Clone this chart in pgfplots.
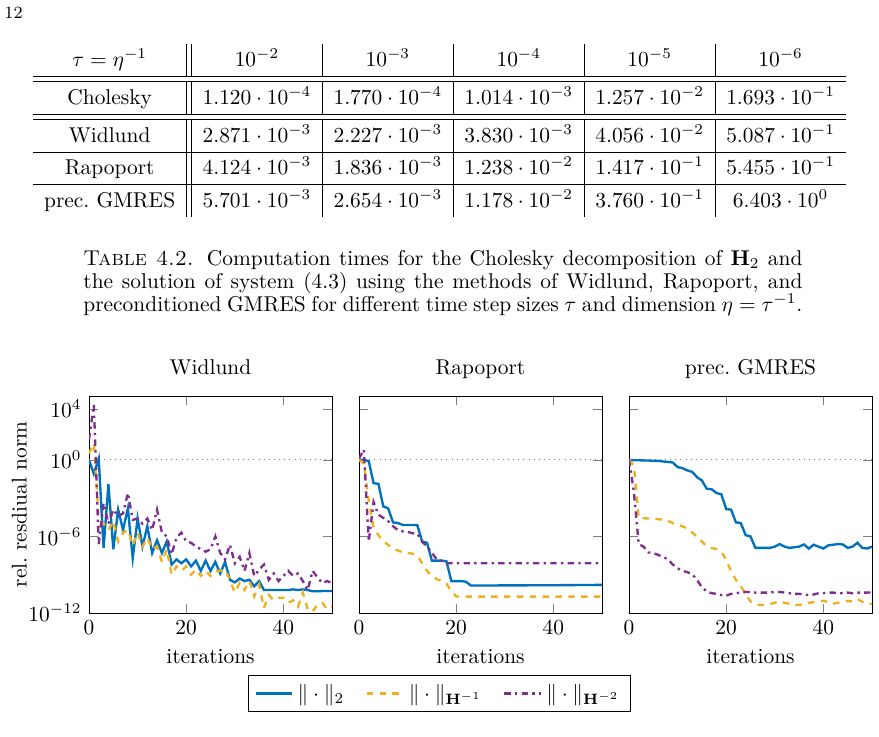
\documentclass[border=0pt]{standalone}
\usepackage{pgfplots}
\usepackage{pgfplotstable}
\pgfplotsset{compat=1.18}
\definecolor{mblue}{RGB}{0,114,189}
\definecolor{myellow}{RGB}{237,177,32}
\definecolor{mpurple}{RGB}{126,47,142}

\pgfplotstableread{
it a b c
0 1 3.162 3.981e1
1 7.943e-2 1.995e1 1.995e4
2 1.259 1.995e-5 2.512e-7
3 1.259e-7 1e-5 3.981e-4
4 1.259e-2 3.162e-6 1e-5
5 1e-7 1.585e-5 1.259e-4
6 1.259e-4 3.981e-7 3.981e-5
7 3.162e-6 1.995e-6 6.310e-5
8 1.585e-4 3.162e-6 2.512e-3
9 1.995e-8 1.995e-7 1.995e-5
10 2.512e-5 1.995e-6 2.512e-5
11 1.585e-7 1.585e-7 1e-5
12 6.310e-6 7.943e-7 2.512e-5
13 5.012e-8 1e-7 3.162e-6
14 5.012e-7 1.585e-7 1.259e-4
15 5.012e-8 1e-8 1.995e-6
16 3.981e-7 1e-7 1e-6
17 6.310e-9 1e-9 3.981e-8
18 1.585e-8 4.467e-9 7.943e-7
19 7.943e-9 1.995e-9 1.995e-6
20 1.585e-8 4.467e-9 3.981e-7
21 4.467e-9 1e-9 3.162e-7
22 1.259e-8 2.512e-9 1.585e-7
23 1.995e-9 7.943e-10 1e-7
24 1.259e-8 1.995e-9 6.310e-8
25 1.995e-9 7.943e-10 1e-7
26 1e-8 1.995e-9 1e-6
27 1.259e-9 1.995e-9 5.012e-8
28 1e-8 2.512e-9 1.585e-8
29 3.981e-10 3.981e-10 2.239e-7
30 2.512e-10 3.981e-11 7.943e-9
31 5.012e-10 2.239e-10 2.512e-8
32 3.162e-10 6.310e-11 1.995e-9
33 3.981e-10 3.162e-10 5.012e-8
34 1.259e-10 1.995e-11 7.943e-10
35 3.162e-10 1.585e-10 2.512e-9
36 6.310e-11 2.512e-12 6.310e-9
37 6.310e-11 2.512e-11 3.981e-10
38 6.310e-11 1e-11 1.259e-9
39 6.310e-11 1.585e-11 3.162e-10
40 6.310e-11 1.585e-11 7.943e-10
41 6.310e-11 6.310e-12 1.995e-9
42 7.079e-11 1e-11 7.943e-10
43 6.310e-11 3.162e-12 1.259e-9
44 7.079e-11 3.981e-11 3.162e-10
45 6.310e-11 1.995e-12 6.310e-11
46 5.012e-11 1.259e-12 1.995e-9
47 5.012e-11 4.467e-12 6.310e-10
48 5.248e-11 6.310e-12 2.239e-10
49 5.248e-11 1.995e-12 3.162e-10
50 5.248e-11 3.162e-12 2.239e-10
}\widlund

\pgfplotstableread{
it a b c
0 1 1 1.259
1 1 5.012e-1 6.310
2 7.943e-1 6.310e-4 3.981e-7
3 1.479e-2 5.012e-6 5.012e-4
4 1.318e-2 1.259e-6 5.012e-5
5 2.239e-4 3.981e-7 2.818e-5
6 1.585e-4 2.239e-7 1.585e-5
7 1.259e-5 1e-7 6.310e-6
8 1.122e-5 7.943e-8 3.162e-6
9 7.943e-6 5.623e-8 2.512e-6
10 7.943e-6 5.012e-8 2.239e-6
11 7.943e-6 4.467e-8 1.778e-6
12 7.586e-6 3.162e-8 1.585e-6
13 3.981e-7 7.943e-9 3.981e-7
14 3.162e-7 1.995e-9 1.585e-7
15 1.259e-8 7.943e-10 5.012e-8
16 1.259e-8 4.467e-10 1.585e-8
17 1.259e-8 3.162e-10 1.259e-8
18 1.122e-8 1.995e-10 7.943e-9
19 3.162e-10 5.012e-11 7.943e-9
20 3.162e-10 1.995e-11 7.943e-9
21 3.162e-10 1.905e-11 7.943e-9
22 2.818e-10 1.905e-11 7.943e-9
23 1.445e-10 1.905e-11 7.943e-9
24 1.445e-10 1.905e-11 7.943e-9
25 1.445e-10 1.905e-11 7.943e-9
26 1.445e-10 1.905e-11 7.943e-9
27 1.445e-10 1.905e-11 7.943e-9
28 1.445e-10 1.905e-11 7.943e-9
29 1.45e-10 1.905e-11 7.943e-9
30 1.45e-10 1.905e-11 7.943e-9
31 1.46e-10 1.905e-11 7.943e-9
32 1.46e-10 1.905e-11 7.943e-9
33 1.47e-10 1.905e-11 7.943e-9
34 1.47e-10 1.905e-11 7.943e-9
35 1.48e-10 1.905e-11 7.943e-9
36 1.48e-10 1.905e-11 7.943e-9
37 1.49e-10 1.905e-11 7.943e-9
38 1.49e-10 1.905e-11 7.943e-9
39 1.50e-10 1.905e-11 7.943e-9
40 1.50e-10 1.905e-11 7.943e-9
41 1.51e-10 1.905e-11 7.943e-9
42 1.52e-10 1.905e-11 7.943e-9
43 1.53e-10 1.905e-11 7.943e-9
44 1.54e-10 1.905e-11 7.943e-9
45 1.55e-10 1.905e-11 7.943e-9
46 1.56e-10 1.905e-11 7.943e-9
47 1.57e-10 1.905e-11 7.943e-9
48 1.58e-10 1.905e-11 7.943e-9
49 1.59e-10 1.905e-11 7.943e-9
50 1.60e-10 1.905e-11 7.943e-9
}\rapoport

\pgfplotstableread{
it a b c
0 1 1 1
1 9.333e-1 3.548e-1 3.162e-3
2 9.333e-1 2.692e-5 2.512e-7
3 8.913e-1 2.692e-5 1.585e-7
4 8.913e-1 2.512e-5 5.623e-8
5 8.318e-1 2.512e-5 5.012e-8
6 8.318e-1 2.239e-5 3.548e-8
7 7.413e-1 1.995e-5 2.512e-8
8 6.918e-1 1.698e-5 1.585e-8
9 6.166e-1 1.096e-5 6.310e-9
10 2.692e-1 7.943e-6 3.162e-9
11 2.239e-1 6.310e-6 1.995e-9
12 1.479e-1 3.981e-6 1.585e-9
13 1.148e-1 1.995e-6 1.122e-9
14 4.365e-2 1e-6 3.981e-10
15 2.399e-2 3.981e-7 1e-10
16 5.370e-3 1.660e-7 5.012e-11
17 5.012e-3 1.259e-7 3.548e-11
18 2.512e-3 1e-7 3.162e-11
19 1.995e-3 6.310e-8 2.512e-11
20 1.380e-4 1.479e-8 2.239e-11
21 1.259e-4 1.820e-9 3.162e-11
22 1.259e-5 3.981e-10 3.548e-11
23 1.122e-5 1.259e-10 3.981e-11
24 1.259e-6 3.162e-11 4.467e-11
25 1e-6 7.943e-12 4.467e-11
26 1.259e-7 5.012e-12 3.981e-11
27 1.259e-7 4.266e-12 3.981e-11
28 1.259e-7 4.266e-12 3.981e-11
29 1.259e-7 5.012e-12 3.981e-11
30 1.585e-7 6.310e-12 4.467e-11
31 2.512e-7 7.943e-12 4.467e-11
32 1.585e-7 6.310e-12 3.981e-11
33 1.259e-7 5.370e-12 3.548e-11
34 1.413e-7 4.467e-12 3.162e-11
35 1.585e-7 4.266e-12 3.162e-11
36 2.344e-7 5.012e-12 2.818e-11
37 1.122e-7 6.310e-12 2.512e-11
38 2.239e-7 7.079e-12 2.818e-11
39 1.585e-7 7.943e-12 3.548e-11
40 1.122e-7 9.120e-12 3.548e-11
41 1.995e-7 7.079e-12 3.981e-11
42 2.239e-7 5.370e-12 3.981e-11
43 2.512e-7 6.310e-12 3.548e-11
44 2.344e-7 7.586e-12 3.548e-11
45 1.259e-7 8.710e-12 3.981e-11
46 1.585e-7 7.943e-12 3.548e-11
47 3.162e-7 1.259e-11 3.981e-11
48 1.259e-7 7.586e-12 3.981e-11
49 1.122e-7 5.370e-12 3.981e-11
50 1.585e-7 5.370e-12 4.169e-11
}\gmres

\tikzset{
  l2/.style={mblue, line width=1.1pt},
  lh1/.style={myellow, line width=1.1pt, dashed},
  lh2/.style={mpurple, line width=1.1pt, dash dot},
}
\pgfplotsset{
  every axis title/.style={at={(axis description cs:0.5,1.1014)}, anchor=base},
}

\begin{document}
\begin{tikzpicture}
\useasboundingbox (0,0) rectangle (410.493pt,-343.712pt);

% page number
\node[anchor=west, inner sep=0pt, font=\fontsize{8}{9.6}\selectfont] at (1.868pt,-6.071pt) {12};

% table
\node[anchor=north west, inner sep=0pt] at (15.411pt,-20.548pt) {%
\renewcommand{\arraystretch}{1.235}%
\setlength{\tabcolsep}{5.0pt}%
\begin{tabular}{c||c|c|c|c|c}
$\tau=\eta^{-1}$ & $10^{-2}$ & $10^{-3}$ & $10^{-4}$ & $10^{-5}$ & $10^{-6}$\\
\hline\hline
Cholesky & $1.120\cdot10^{-4}$ & $1.770\cdot10^{-4}$ & $1.014\cdot10^{-3}$ & $1.257\cdot10^{-2}$ & $1.693\cdot10^{-1}$\\
\hline\hline
Widlund & $2.871\cdot10^{-3}$ & $2.227\cdot10^{-3}$ & $3.830\cdot10^{-3}$ & $4.056\cdot10^{-2}$ & $5.087\cdot10^{-1}$\\
\hline
Rapoport & $4.124\cdot10^{-3}$ & $1.836\cdot10^{-3}$ & $1.238\cdot10^{-2}$ & $1.417\cdot10^{-1}$ & $5.455\cdot10^{-1}$\\
\hline
prec.\ GMRES & $5.701\cdot10^{-3}$ & $2.654\cdot10^{-3}$ & $1.178\cdot10^{-2}$ & $3.760\cdot10^{-1}$ & $6.403\cdot10^{0}$\\
\end{tabular}};

% caption
\node[anchor=base west, inner sep=0pt] at (38.761pt,-123.755pt) {\parbox[t]{335.77pt}{\fontsize{10}{10.74}\selectfont\hyphenpenalty=10000\parfillskip=0pt\relax
\textsc{Table 4.2.} Computation times for the Cholesky decomposition of $\mathbf{H}_2$ and\linebreak
the solution of system (4.3) using the methods of Widlund, Rapoport, and\linebreak
preconditioned GMRES for different time step sizes $\tau$ and dimension $\eta=\tau^{-1}$.}};

% Widlund
\begin{axis}[
  at={(41.563pt,-184.932pt)}, anchor=north west,
  scale only axis, width=113.481pt, height=101.339pt,
  ymode=log, xmin=0, xmax=50, ymin=1e-12, ymax=1e5,
  xtick={0,20,40}, ytick={1e-12,1e-6,1e0,1e4}, yminorticks=false,
  major tick style={black!50},
  xlabel style={at={(axis description cs:0.5,-0.2332)}, anchor=base},
  xlabel={iterations},
  title={Widlund},
  ylabel={rel.\ resdiual norm},
  ylabel style={at={(axis description cs:-0.2568,0.5)}, anchor=base},
]
\addplot[gray, dotted, forget plot] coordinates {(0,1) (50,1)};
\addplot[l2] table[x=it,y=a] {\widlund};
\addplot[lh1] table[x=it,y=b] {\widlund};
\addplot[lh2] table[x=it,y=c] {\widlund};
\end{axis}

% Rapoport
\begin{axis}[
  at={(167.653pt,-184.932pt)}, anchor=north west,
  scale only axis, width=113.481pt, height=101.339pt,
  ymode=log, xmin=0, xmax=50, ymin=1e-12, ymax=1e5,
  xtick={0,20,40}, ytick={1e-12,1e-6,1e0,1e4}, yminorticks=false,
  major tick style={black!50},
  xlabel style={at={(axis description cs:0.5,-0.2332)}, anchor=base},
  xlabel={iterations},
  title={Rapoport},
  yticklabels={},
  legend columns=3,
  legend style={at={(axis description cs:0.3292,-0.2857)}, anchor=north,
    draw=black, /tikz/every even column/.append style={column sep=8pt}},
]
\addplot[gray, dotted, forget plot] coordinates {(0,1) (50,1)};
\addplot[l2] table[x=it,y=a] {\rapoport};
\addlegendentry{$\|\cdot\|_2$}
\addplot[lh1] table[x=it,y=b] {\rapoport};
\addlegendentry{$\|\cdot\|_{\mathbf{H}^{-1}}$}
\addplot[lh2] table[x=it,y=c] {\rapoport};
\addlegendentry{$\|\cdot\|_{\mathbf{H}^{-2}}$}
\end{axis}

% prec. GMRES
\begin{axis}[
  at={(293.743pt,-184.932pt)}, anchor=north west,
  scale only axis, width=113.481pt, height=101.339pt,
  ymode=log, xmin=0, xmax=50, ymin=1e-12, ymax=1e5,
  xtick={0,20,40}, ytick={1e-12,1e-6,1e0,1e4}, yminorticks=false,
  major tick style={black!50},
  xlabel style={at={(axis description cs:0.5,-0.2332)}, anchor=base},
  xlabel={iterations},
  title={prec.\ GMRES},
  yticklabels={},
]
\addplot[gray, dotted, forget plot] coordinates {(0,1) (50,1)};
\addplot[l2] table[x=it,y=a] {\gmres};
\addplot[lh1] table[x=it,y=b] {\gmres};
\addplot[lh2] table[x=it,y=c] {\gmres};
\end{axis}
\end{tikzpicture}
\end{document}
